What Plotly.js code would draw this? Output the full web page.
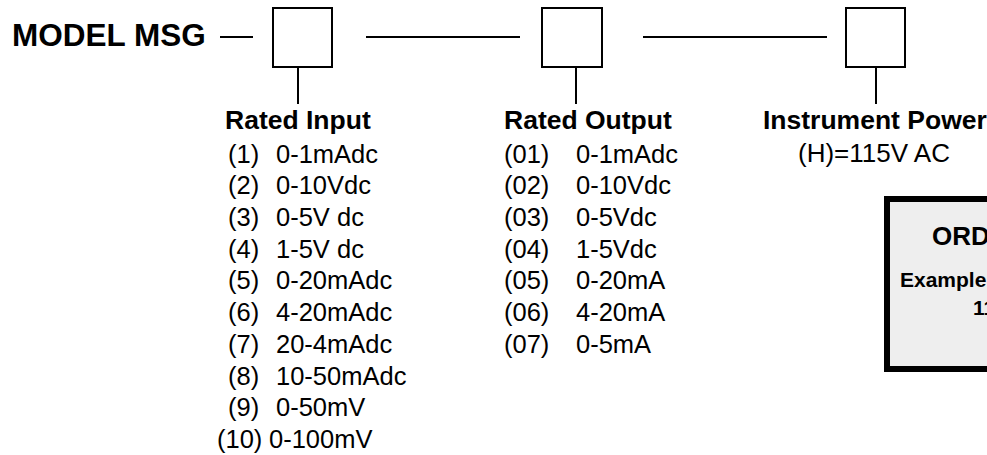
<!DOCTYPE html>
<html>
<head>
<meta charset="utf-8">
<script src="https://cdn.plot.ly/plotly-3.0.1.min.js"></script>
<style>html,body{margin:0;padding:0;background:#fff;}#chart{width:987px;height:455px;}</style>
</head>
<body>
<div id="chart"></div>
<script>
// ---- content ----
const modelName = 'MODEL MSG';
const groupTitles = ['Rated Input', 'Rated Output', 'Instrument Power'];
const inputCodes = ['(1)', '(2)', '(3)', '(4)', '(5)', '(6)', '(7)', '(8)', '(9)', '(10)'];
const inputRanges = ['0-1mAdc', '0-10Vdc', '0-5V dc', '1-5V dc', '0-20mAdc', '4-20mAdc', '20-4mAdc', '10-50mAdc', '0-50mV', '0-100mV'];
const outputCodes = ['(01)', '(02)', '(03)', '(04)', '(05)', '(06)', '(07)'];
const outputRanges = ['0-1mAdc', '0-10Vdc', '0-5Vdc', '1-5Vdc', '0-20mA', '4-20mA', '0-5mA'];
const powerOptions = ['(H)=115V AC'];
const orderTitle = 'ORDERING INFORMATION';
const orderLines = ['Example: MSG-6-06-H', '115V AC Power'];

// ---- layout helpers ----
const FONT = 'Liberation Sans, Arial, Helvetica, sans-serif';
const BODY = 25.5, HEAD = 26.5, MODEL = 31.5, POWER = 26;
function mid(baseline, size) { return baseline - 0.3465 * size; }
const ann = [];
function txt(text, x, baseline, size, bold, anchor) {
  ann.push({
    x: x, y: mid(baseline, size), xref: 'x', yref: 'y', text: bold ? '<b>' + text + '</b>' : text,
    showarrow: false, xanchor: anchor || 'left', yanchor: 'middle', borderpad: 0,
    font: {family: FONT, size: size, color: '#000'}
  });
}

txt(modelName, 11, 46, MODEL, true);
txt(groupTitles[0], 298, 129.5, HEAD, true, 'center');
txt(groupTitles[1], 503, 129.5, HEAD, true);
txt(groupTitles[2], 875, 129.5, HEAD, true, 'center');

const row0 = 162.5, rowStep = 31.7;
inputCodes.forEach((c, i) => {
  const b = row0 + i * rowStep;
  const two = c.length > 3;
  txt(c, two ? 216 : 227, b, BODY, false);
  txt(inputRanges[i], two ? 268 : 275, b, BODY, false);
});
outputCodes.forEach((c, i) => {
  const b = row0 + i * rowStep;
  txt(c, 503, b, BODY, false);
  txt(outputRanges[i], 575, b, BODY, false);
});
powerOptions.forEach((p, i) => txt(p, 874, 162.5 + i * rowStep, POWER, false, 'center'));

txt(orderTitle, 931, 245, 26, true);
txt(orderLines[0], 899, 287, 21, true);
txt(orderLines[1], 972, 315, 21, true);

const line = {color: '#000', width: 2};
const shapes = [
  {type: 'line', x0: 220, x1: 253, y0: 37, y1: 37, line: line},
  {type: 'rect', x0: 273, x1: 332, y0: 8, y1: 67, line: line},
  {type: 'line', x0: 366, x1: 520, y0: 37, y1: 37, line: line},
  {type: 'rect', x0: 542, x1: 602, y0: 8, y1: 67, line: line},
  {type: 'line', x0: 643, x1: 827, y0: 37, y1: 37, line: line},
  {type: 'rect', x0: 846, x1: 905, y0: 8, y1: 67, line: line},
  {type: 'line', x0: 298, x1: 298, y0: 67, y1: 104, line: line},
  {type: 'line', x0: 576, x1: 576, y0: 67, y1: 104, line: line},
  {type: 'line', x0: 876, x1: 876, y0: 67, y1: 104, line: line},
  {type: 'rect', x0: 887, x1: 1000, y0: 199, y1: 369, fillcolor: '#eeeeee', layer: 'below', line: {color: '#000', width: 6}}
];

const layout = {
  width: 987, height: 455,
  margin: {l: 0, r: 0, t: 0, b: 0, pad: 0},
  paper_bgcolor: '#fff', plot_bgcolor: '#fff',
  showlegend: false,
  xaxis: {range: [0, 987], visible: false, fixedrange: true},
  yaxis: {range: [455, 0], visible: false, fixedrange: true},
  shapes: shapes,
  annotations: ann
};
Plotly.newPlot('chart', [{x: [], y: [], type: 'scatter', mode: 'markers', hoverinfo: 'skip'}], layout, {displayModeBar: false, staticPlot: true});
</script>
</body>
</html>
